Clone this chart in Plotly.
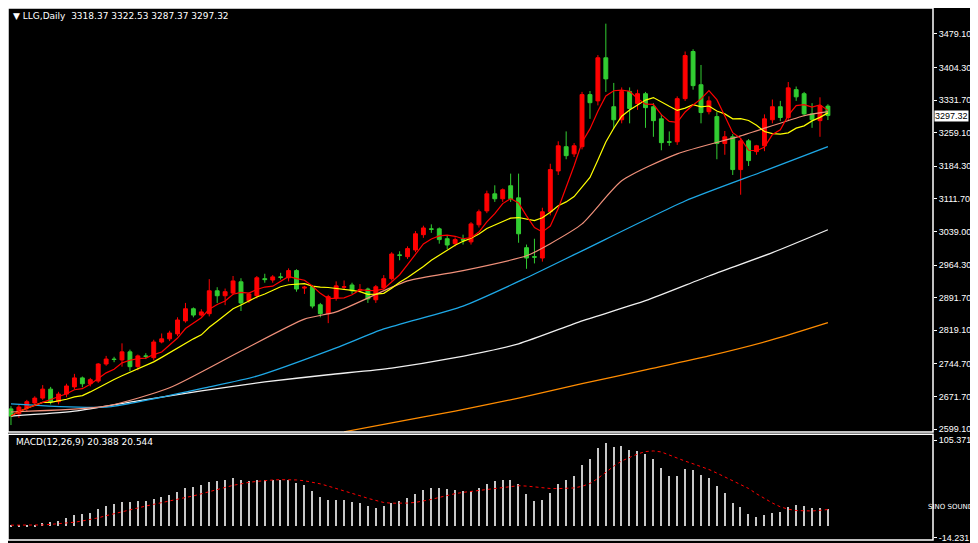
import plotly.graph_objects as go
import pandas as pd

opens = [2644,2633,2646,2657,2668,2688,2660,2677,2693,2713,
2700,2706,2744,2755,2753,2771,2738,2762,2758,2793,
2800,2811,2840,2867,2853,2856,2907,2896,2902,2927,
2885,2896,2934,2931,2938,2936,2952,2913,2916,2876,
2856,2891,2915,2920,2909,2911,2887,2914,2934,2987,
2983,2998,3032,3045,3045,3023,3012,3021,3016,3054,
3085,3123,3112,3141,3114,3003,2983,2980,3083,3174,
3228,3212,3228,3344,3330,3426,3317,3288,3351,3324,
3346,3317,3290,3239,3239,3335,3440,3366,3306,3295,
3235,3250,3177,3241,3217,3230,3288,3317,3293,3355,
3346,3301,3286,3318.37]
closes = [2628,2648,2660,2668,2688,2660,2677,2695,2713,2700,
2709,2744,2755,2754,2771,2738,2762,2761,2793,2800,
2813,2842,2867,2853,2860,2907,2896,2905,2929,2880,
2900,2936,2932,2938,2937,2952,2911,2915,2873,2856,
2894,2918,2916,2907,2910,2889,2916,2934,2989,2986,
3001,3034,3047,3044,3021,3009,3021,3020,3056,3083,
3123,3112,3132,3112,3034,2980,2982,3083,3177,3230,
3208,3230,3344,3326,3426,3379,3288,3351,3313,3346,
3315,3286,3237,3238,3335,3431,3364,3304,3330,3235,
3250,3177,3241,3197,3230,3290,3317,3293,3359,3339,
3301,3288,3319,3297.32]
highs = [2650,2655,2664,2672,2697,2693,2682,2700,2722,2716,
2713,2746,2762,2760,2790,2776,2765,2768,2798,2812,
2818,2848,2880,2870,2866,2933,2915,2912,2940,2935,
2903,2940,2945,2942,2947,2957,2955,2918,2920,2880,
2898,2928,2930,2925,2922,2914,2920,2942,2993,2995,
3006,3040,3052,3055,3048,3030,3026,3032,3060,3088,
3130,3142,3135,3168,3168,3010,3023,3092,3190,3240,
3262,3236,3350,3352,3432,3502,3370,3360,3360,3355,
3350,3325,3300,3262,3340,3440,3445,3410,3340,3305,
3263,3256,3246,3245,3232,3300,3333,3330,3372,3362,
3350,3325,3338,3322.53]
lows = [2608,2624,2638,2650,2664,2654,2654,2670,2688,2692,
2694,2702,2740,2748,2738,2728,2730,2755,2752,2790,
2795,2806,2836,2848,2850,2850,2880,2875,2898,2862,
2880,2890,2925,2925,2932,2928,2905,2900,2868,2848,
2835,2885,2910,2900,2904,2880,2880,2910,2930,2975,
2978,2993,3025,3036,3012,3000,3006,3010,3010,3048,
3080,3105,3105,3105,3014,2956,2968,2972,3075,3165,
3200,3205,3222,3290,3320,3350,3268,3280,3280,3310,
3270,3250,3220,3230,3232,3330,3355,3280,3300,3200,
3210,3165,3121,3185,3210,3218,3280,3285,3285,3330,
3296,3270,3250,3287.37]
macd = [1.2,1.2,0.4,0.4,4.3,5.5,6.6,10.2,13.7,14.9,
15.6,20.7,24.2,26.6,30.1,29.3,30.5,30.5,33.6,36.0,
38.3,41.8,46.5,47.7,50.8,53.6,55.9,57.1,59.4,57.1,
55.9,57.1,57.1,57.1,57.1,57.1,52.8,50.0,43.0,36.0,
32.5,32.5,31.7,29.7,27.8,24.2,22.7,24.2,28.5,31.3,
34.8,39.5,44.2,
46.1,46.1,45.0,43.8,42.6,42.6,46.1,52.0,54.7,57.1,
57.1,51.2,39.5,31.3,32.5,40.7,51.2,57.1,61.8,74.7,
82.9,95.8,101.7,97.0,98.1,93.4,92.2,88.7,81.7,71.1,
61.8,61.8,70.0,68.8,62.9,59.4,48.9,40.7,27.8,23.1,
14.9,11.3,13.7,16.0,17.2,23.1,25.4,24.2,21.9,21.9,20.388]
# longer moving averages, read at sample bars
ma30_idx = [0,12,20,29,37,41,50,57,65,68,72,77,84,92,100,103]
ma30 = [2637,2650,2691,2773,2844,2860,2929,2952,2985,3012,3056,3152,3212,3252,3297,3306]
ma60_idx = [0,12,25,31,41,47,57,65,72,85,95,103]
ma60 = [2655,2648,2693,2717,2780,2822,2873,2936,2996,3107,3174,3228]
ma120_idx = [0,8,16,24,32,40,48,56,64,72,80,88,96,103]
ma120 = [2628,2639,2662,2684,2704,2720,2735,2758,2789,2840,2885,2940,2992,3043]
ma240_idx = [42,48,56,64,72,80,88,96,103]
ma240 = [2593,2613,2639,2668,2700,2731,2762,2798,2836]
price_ticks = [3479.10,3404.30,3331.70,3259.10,3184.30,3111.70,3039.00,2964.30,2891.70,2819.10,2744.70,2671.70,2599.10]

x = list(range(len(closes)))
cs = pd.Series(closes)
ma5 = cs.rolling(5, min_periods=1).mean()
ma10 = cs.rolling(10, min_periods=1).mean()
signal = pd.Series(macd).rolling(9, min_periods=1).mean()

fig = go.Figure()
fig.add_trace(go.Scatter(x=ma120_idx, y=ma120, mode="lines", line=dict(color="#F0F0F0", width=1.3, shape="spline", smoothing=0.6), xaxis="x", yaxis="y"))
fig.add_trace(go.Scatter(x=ma240_idx, y=ma240, mode="lines", line=dict(color="#FF8C00", width=1.3, shape="spline", smoothing=0.6), xaxis="x", yaxis="y"))
fig.add_trace(go.Scatter(x=ma60_idx, y=ma60, mode="lines", line=dict(color="#1EA8E6", width=1.3, shape="spline", smoothing=0.6), xaxis="x", yaxis="y"))
fig.add_trace(go.Scatter(x=ma30_idx, y=ma30, mode="lines", line=dict(color="#F0907A", width=1.2, shape="spline", smoothing=0.6), xaxis="x", yaxis="y"))
fig.add_trace(go.Candlestick(x=x, open=opens, high=highs, low=lows, close=closes,
    increasing=dict(line=dict(color="#FF0000", width=1), fillcolor="#FF0000"),
    decreasing=dict(line=dict(color="#32CD32", width=1), fillcolor="#32CD32"),
    whiskerwidth=0, xaxis="x", yaxis="y"))
fig.add_trace(go.Scatter(x=x, y=ma10, mode="lines", line=dict(color="#FFFF00", width=1.2), xaxis="x", yaxis="y"))
fig.add_trace(go.Scatter(x=x, y=ma5, mode="lines", line=dict(color="#FF0000", width=1.2), xaxis="x", yaxis="y"))
fig.add_trace(go.Bar(x=x, y=macd, marker=dict(color="#C8C8C8", line=dict(width=0)), width=0.18, xaxis="x2", yaxis="y2"))
fig.add_trace(go.Scatter(x=x, y=signal, mode="lines", line=dict(color="#FF0000", width=1, dash="dot"), xaxis="x2", yaxis="y2"))

xr = [-0.375, 116.25]
tf = dict(color="white", size=9, family="Liberation Sans")
fig.update_layout(
    width=970, height=535, margin=dict(l=0, r=45, t=0, b=3),
    paper_bgcolor="black", plot_bgcolor="black", showlegend=False, bargap=0,
    xaxis=dict(range=xr, domain=[0, 1], anchor="y", showgrid=False, showticklabels=False, zeroline=False, rangeslider=dict(visible=False)),
    xaxis2=dict(range=xr, domain=[0, 1], anchor="y2", showgrid=False, showticklabels=False, zeroline=False),
    yaxis=dict(range=[2592.5, 3536.9], domain=[0.203, 1], side="right", showgrid=False, zeroline=False,
               tickvals=price_ticks, ticktext=["%.2f" % v for v in price_ticks], ticks="outside", ticklen=3,
               tickcolor="white", tickfont=tf),
    yaxis2=dict(range=[-17, 113], domain=[0, 0.199], side="right", showgrid=False, zeroline=False,
                tickvals=[105.371, -14.231], ticktext=["105.371", "-14.231"], ticks="outside", ticklen=3,
                tickcolor="white", tickfont=tf),
    shapes=[
        dict(type="rect", xref="paper", yref="paper", x0=0, x1=1, y0=0.203, y1=1, line=dict(color="white", width=1.5)),
        dict(type="rect", xref="paper", yref="paper", x0=0, x1=1, y0=0, y1=0.199, line=dict(color="white", width=1.5)),
    ],
    annotations=[
        dict(text="▼ LLG,Daily  3318.37 3322.53 3287.37 3297.32", xref="paper", yref="paper", x=0.003, y=0.998,
             xanchor="left", yanchor="top", showarrow=False, font=dict(color="white", size=9, family="DejaVu Sans")),
        dict(text="MACD(12,26,9) 20.388 20.544", xref="paper", yref="paper", x=0.006, y=0.197,
             xanchor="left", yanchor="top", showarrow=False, font=dict(color="white", size=9, family="DejaVu Sans")),
        dict(text="3297.32", xref="paper", yref="y", x=1.001, y=3297.32, xanchor="left", yanchor="middle",
             showarrow=False, bgcolor="white", borderpad=0, font=dict(color="black", size=9, family="Liberation Sans")),
        dict(text="SINO SOUND", xref="paper", yref="paper", x=1.045, y=0.05, xanchor="right", yanchor="bottom",
             showarrow=False, font=dict(color="white", size=7, family="DejaVu Sans")),
    ],
)
fig.write_html("out.html")
